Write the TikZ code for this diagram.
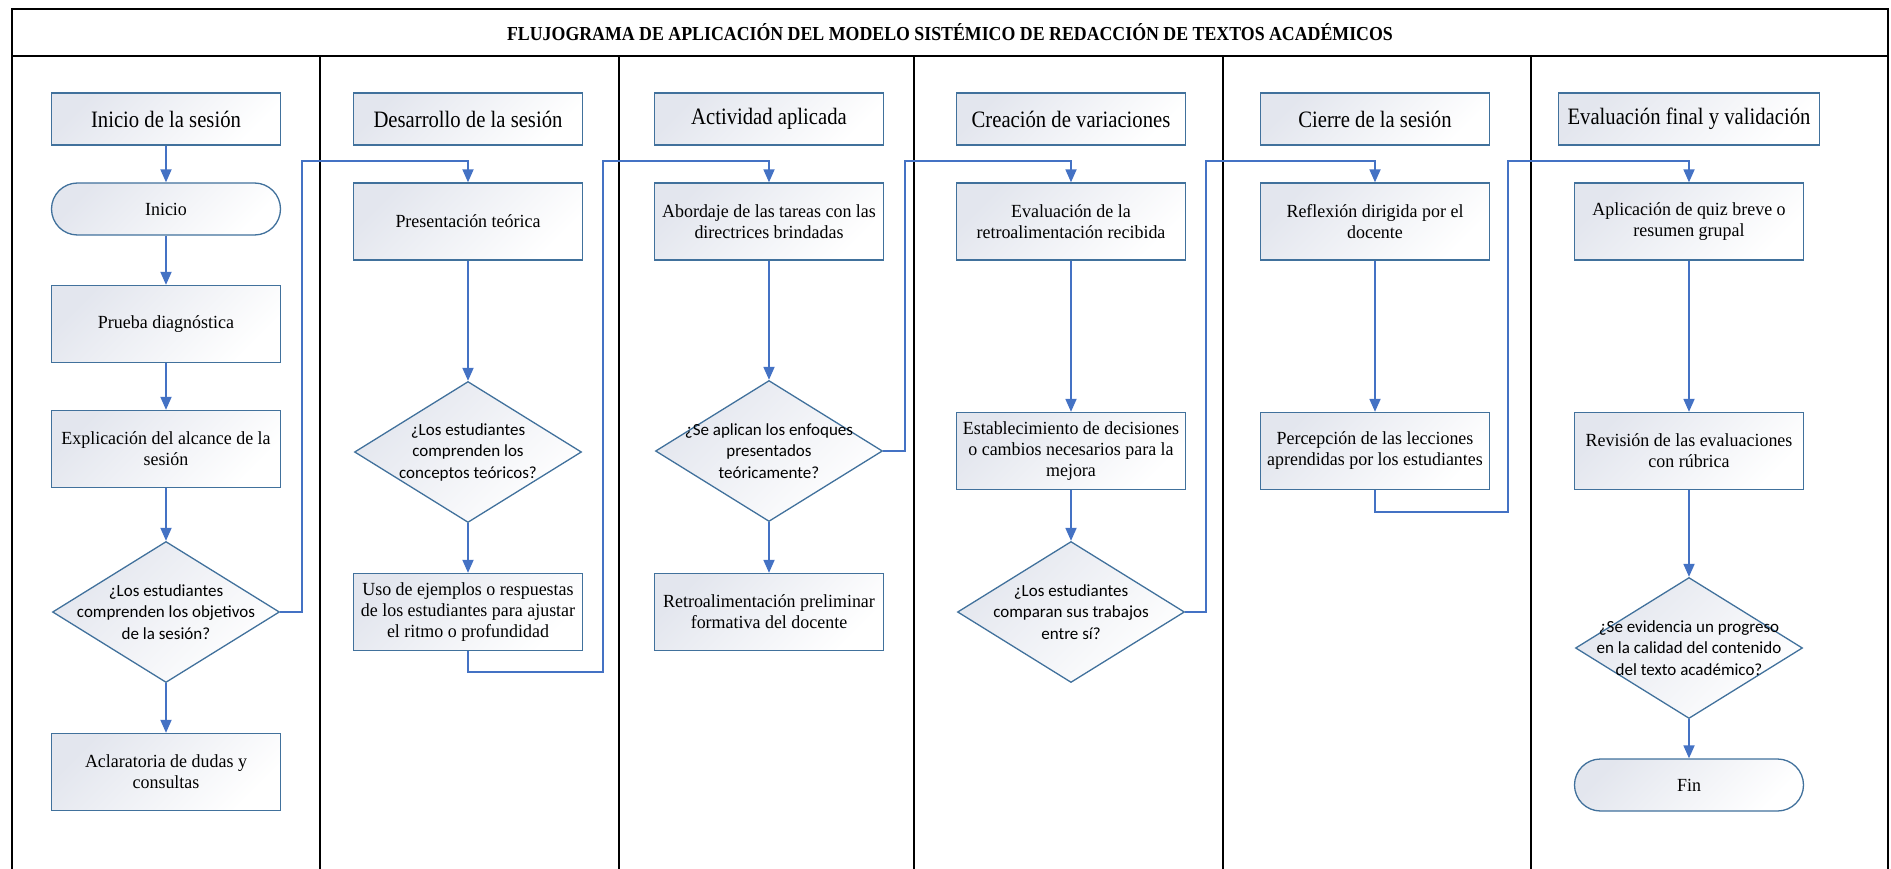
\documentclass[tikz,border=0pt]{standalone}
\usepackage{fontspec}
\setmainfont{Liberation Serif}
\newfontfamily\boxfont[FakeStretch=0.97]{Liberation Serif}
\newfontfamily\headfont[FakeStretch=0.88]{Liberation Serif}
\newfontfamily\titlefont[FakeStretch=0.9]{Liberation Serif}
\newfontfamily\diafont{Carlito}
\usetikzlibrary{shapes.geometric,arrows.meta}
\definecolor{bord}{HTML}{41719C}
\definecolor{conn}{HTML}{4472C4}
\definecolor{fillc}{HTML}{E3E6EE}
\tikzset{
 proc/.style={draw=bord, line width=1.3pt, top color=fillc, bottom color=white, shading angle=45,
   minimum width=229pt, minimum height=77pt, inner sep=0pt, align=center,
   font=\boxfont\fontsize{18.5}{21}\selectfont},
 headbox/.style={proc, minimum height=52pt, font=\headfont\fontsize{23.5}{27}\selectfont},
 term/.style={proc, rounded corners=26pt, minimum height=52pt},
 dia/.style={draw=bord, line width=1.3pt, diamond, top color=fillc, bottom color=white, shading angle=45,
   minimum width=227pt, minimum height=141pt, inner sep=0pt},
 dtext/.style={align=center, inner sep=0pt, font=\diafont\fontsize{17}{21.5}\selectfont},
 flow/.style={draw=conn, line width=1.8pt, -{Triangle[length=13pt,width=11pt]}},
 lane/.style={draw=black, line width=1.5pt},
}
\begin{document}
\begin{tikzpicture}[x=1pt,y=-1pt]
\useasboundingbox (0,0) rectangle (1891,869);
% frame and lanes
\draw[lane] (12,900) -- (12,9) -- (1888,9) -- (1888,900);
\draw[lane] (12,56) -- (1888,56);
\foreach \xx in {320,619,914,1223,1531} \draw[lane] (\xx,56) -- (\xx,900);
\node[font=\titlefont\bfseries\fontsize{19.8}{23}\selectfont] (title) at (950,32.5) {FLUJOGRAMA DE APLICACIÓN DEL MODELO SISTÉMICO DE REDACCIÓN DE TEXTOS ACADÉMICOS};
% headers
\node[headbox] (h1) at (166,119) {Inicio de la sesión};
\node[headbox] (h2) at (468,119) {Desarrollo de la sesión};
\node[headbox] (h3) at (769,119) {Actividad aplicada};
\node[headbox] (h4) at (1071,119) {Creación de variaciones};
\node[headbox] (h5) at (1375,119) {Cierre de la sesión};
\node[headbox, minimum width=261pt] (h6) at (1689,119) {Evaluación final y validación};
% lane 1
\node[term] (ini) at (166,209) {Inicio};
\node[proc] (prueba) at (166,324) {Prueba diagnóstica};
\node[proc] (expl) at (166,449) {Explicación del alcance de la\\sesión};
\node[dia] (d1) at (166,612) {};
\node[dtext] (d1t) at (d1) {¿Los estudiantes\\comprenden los objetivos\\de la sesión?};
\node[proc] (acl) at (166,772) {Aclaratoria de dudas y\\consultas};
% lane 2
\node[proc] (pres) at (468,221.5) {Presentación teórica};
\node[dia] (d2) at (468,452) {};
\node[dtext] (d2t) at (d2) {¿Los estudiantes\\comprenden los\\conceptos teóricos?};
\node[proc] (uso) at (468,612) {Uso de ejemplos o respuestas\\de los estudiantes para ajustar\\el ritmo o profundidad};
% lane 3
\node[proc] (abor) at (769,221.5) {Abordaje de las tareas con las\\directrices brindadas};
\node[dia] (d3) at (769,451) {};
\node[dtext] (d3t) at (d3) {¿Se aplican los enfoques\\presentados\\teóricamente?};
\node[proc] (retro) at (769,612) {Retroalimentación preliminar\\formativa del docente};
% lane 4
\node[proc] (evalr) at (1071,221.5) {Evaluación de la\\retroalimentación recibida};
\node[proc] (estab) at (1071,451) {Establecimiento de decisiones\\o cambios necesarios para la\\mejora};
\node[dia] (d4) at (1071,612) {};
\node[dtext] (d4t) at (d4) {¿Los estudiantes\\comparan sus trabajos\\entre sí?};
% lane 5
\node[proc] (refl) at (1375,221.5) {Reflexión dirigida por el\\docente};
\node[proc] (perc) at (1375,451) {Percepción de las lecciones\\aprendidas por los estudiantes};
% lane 6
\node[proc] (quiz) at (1689,221.5) {Aplicación de quiz breve o\\resumen grupal};
\node[proc] (rev) at (1689,451) {Revisión de las evaluaciones\\con rúbrica};
\node[dia] (d6) at (1689,648) {};
\node[dtext] (d6t) at (d6) {¿Se evidencia un progreso\\en la calidad del contenido\\del texto académico?};
\node[term] (fin) at (1689,785) {Fin};
% routing coordinates
\coordinate (c1) at (302,161);
\coordinate (c2a) at (603,672);
\coordinate (c2b) at (603,161);
\coordinate (c3) at (905,161);
\coordinate (c4) at (1206,161);
\coordinate (c5a) at (1508,512);
\coordinate (c5b) at (1508,161);
% connectors
\draw[flow] (h1) -- (ini);
\draw[flow] (ini) -- (prueba);
\draw[flow] (prueba) -- (expl);
\draw[flow] (expl) -- (d1);
\draw[flow] (d1) -- (acl);
\draw[flow] (d1.east) -| (c1) -| (pres.north);
\draw[flow] (pres) -- (d2);
\draw[flow] (d2) -- (uso);
\draw[flow] (uso.south) |- (c2a) -- (c2b) -| (abor.north);
\draw[flow] (abor) -- (d3);
\draw[flow] (d3) -- (retro);
\draw[flow] (d3.east) -| (c3) -| (evalr.north);
\draw[flow] (evalr) -- (estab);
\draw[flow] (estab) -- (d4);
\draw[flow] (d4.east) -| (c4) -| (refl.north);
\draw[flow] (refl) -- (perc);
\draw[flow] (perc.south) |- (c5a) -- (c5b) -| (quiz.north);
\draw[flow] (quiz) -- (rev);
\draw[flow] (rev) -- (d6);
\draw[flow] (d6) -- (fin);
\end{tikzpicture}
\end{document}
